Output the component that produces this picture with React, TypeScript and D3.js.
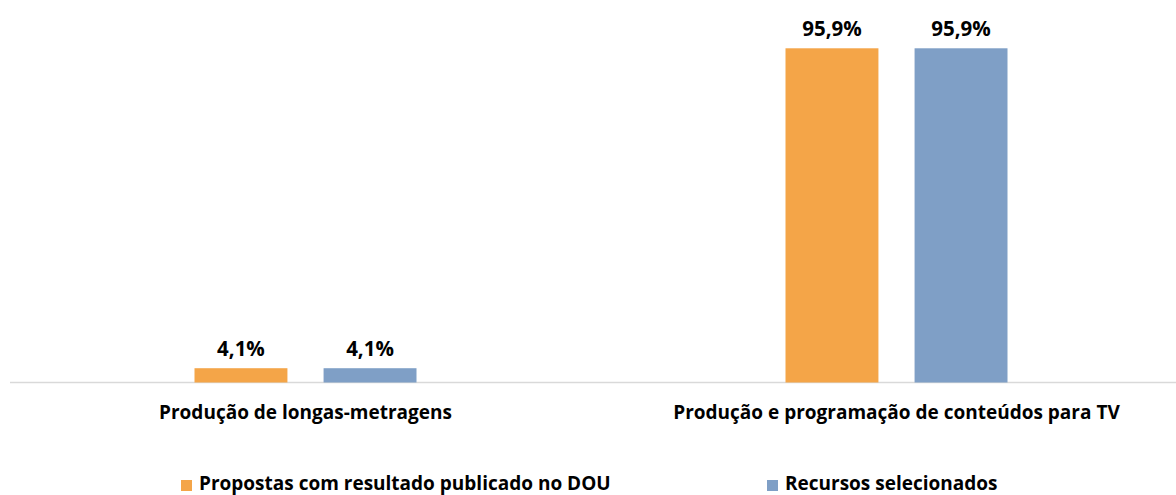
import * as d3 from 'd3';
import React from 'react';

const categories = ['Produção de longas-metragens', 'Produção e programação de conteúdos para TV'];
const seriesNames = ['Propostas com resultado publicado no DOU', 'Recursos selecionados'];
const propostas = [4.1, 95.9];
const recursos = [4.1, 95.9];
const colors = ['#F4A548', '#7F9FC6'];

export default function App() {
    const width = 1176;
    const height = 495;
    const baseY = 382.5;
    const font = '"Open Sans", sans-serif';

    const x = d3.scaleBand<string>().domain(categories).range([10, 1192]);
    const x1 = d3.scaleBand<string>().domain(seriesNames).range([0, 222]).paddingInner(0.28);
    const y = d3.scaleLinear().domain([0, 100]).range([baseY, 34]);
    const fmt = (v: number) => d3.format('.1f')(v).replace('.', ',') + '%';

    const series = [propostas, recursos];

    return (
        <svg width={width} height={height} style={{ position: 'absolute', left: 0, top: 0 }}>
            <line x1={10} x2={width} y1={baseY} y2={baseY} stroke="#D9D9D9" strokeWidth={1.5} />
            {categories.map((c, ci) => {
                const gx = (x(c) as number) + (x.bandwidth() - 222) / 2;
                return (
                    <g key={c}>
                        {seriesNames.map((s, si) => {
                            const v = series[si][ci];
                            const bx = gx + (x1(s) as number);
                            return (
                                <g key={s}>
                                    <rect x={bx} y={y(v)} width={x1.bandwidth()} height={baseY - y(v)} fill={colors[si]} />
                                    <text x={bx + x1.bandwidth() / 2} y={y(v) - 12} textAnchor="middle"
                                        fontFamily={font} fontWeight="bold" fontSize={20.5} fill="#000">{fmt(v)}</text>
                                </g>
                            );
                        })}
                        <text x={(x(c) as number) + x.bandwidth() / 2} y={419} textAnchor="middle"
                            fontFamily={font} fontWeight="bold" fontSize={19} fill="#000">{c}</text>
                    </g>
                );
            })}
            {seriesNames.map((s, si) => {
                const lx = si === 0 ? 181 : 767;
                return (
                    <g key={s}>
                        <rect x={lx} y={480} width={11} height={11} fill={colors[si]} />
                        <text x={lx + 18} y={490} fontFamily={font} fontWeight="bold" fontSize={19} fill="#000">{s}</text>
                    </g>
                );
            })}
        </svg>
    );
}
